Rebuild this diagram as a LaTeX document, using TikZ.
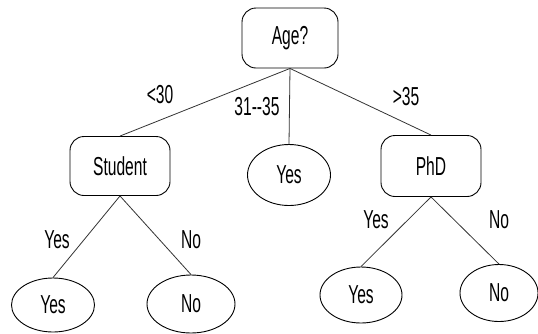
\documentclass[tikz,border=0pt]{standalone}
\usepackage{fontspec}
\setmainfont{Liberation Sans}[FakeStretch=0.6]
\usetikzlibrary{shapes.geometric}
\begin{document}
\begin{tikzpicture}[x=1pt,y=-1pt,
  every node/.style={font=\fontsize{26}{30}\selectfont, inner sep=0pt},
  decbox/.style={draw, rounded corners=14pt, line width=0.9pt},
  leaf/.style={draw, ellipse, line width=0.9pt},
  edge/.style={draw, line width=0.8pt, black!80},
  lbl/.style={}]
\useasboundingbox (0,0) rectangle (538,333);
\node[decbox, minimum width=96pt, minimum height=60pt] (age) at (290,38) {Age?};
\node[decbox, minimum width=100pt, minimum height=59pt] (stu) at (120,166) {Student};
\node[decbox, minimum width=100pt, minimum height=61pt] (phd) at (431,166) {PhD};
\node[leaf, minimum width=83pt, minimum height=61pt] (mid) at (289,175) {Yes};
\node[leaf, minimum width=83pt, minimum height=54pt] (ly) at (53,305) {Yes};
\node[leaf, minimum width=88pt, minimum height=58pt] (ln) at (191,304) {No};
\node[leaf, minimum width=82pt, minimum height=56pt] (ry) at (361,295) {Yes};
\node[leaf, minimum width=78pt, minimum height=57pt] (rn) at (499,293) {No};
\path[edge] (age.south) -- (stu.north);
\path[edge] (age.south) -- (mid.north);
\path[edge] (age.south) -- (phd.north);
\path[edge] (stu.south) -- (ly.north);
\path[edge] (stu.south) -- (ln.north);
\path[edge] (phd.south) -- (ry.north);
\path[edge] (phd.south) -- (rn.north);
\node[lbl] (l1) at (160,95) {<30};
\node[lbl] (l2) at (257,107) {31-{}-35};
\node[lbl] (l3) at (406,97) {>35};
\node[lbl] (l4) at (57,240) {Yes};
\node[lbl] (l5) at (191,240) {No};
\node[lbl] (l6) at (376,220) {Yes};
\node[lbl] (l7) at (499,220) {No};
\end{tikzpicture}
\end{document}
